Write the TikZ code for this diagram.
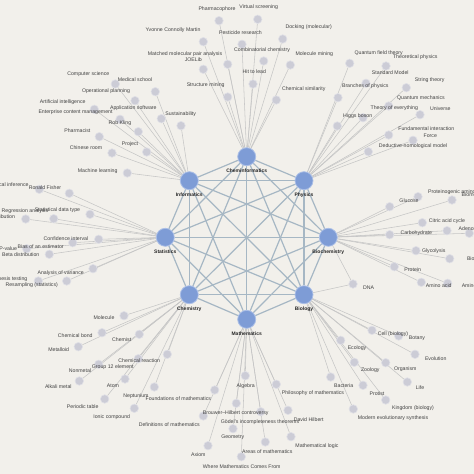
\documentclass[tikz,border=0pt]{standalone}
\usepackage{fontspec}
\setmainfont{Liberation Sans}
\usetikzlibrary{positioning}

\definecolor{paper}{RGB}{242,240,235}
\definecolor{hubblue}{RGB}{126,156,214}
\definecolor{hubrim}{RGB}{170,190,230}
\definecolor{leafgray}{RGB}{204,204,214}
\definecolor{leafrim}{RGB}{224,224,230}
\definecolor{meshline}{RGB}{166,183,196}
\definecolor{spokeline}{RGB}{198,198,198}
\definecolor{txt}{RGB}{66,66,66}

\pgfdeclarelayer{back}
\pgfdeclarelayer{edges}
\pgfdeclarelayer{front}
\pgfsetlayers{back,edges,main,front}

\begin{document}
\begin{tikzpicture}[x=1pt, y=-1pt,
  hub/.style={circle, draw=hubrim, fill=hubblue, line width=0.8pt,
              minimum size=18pt, inner sep=0pt},
  hubtxt/.style={font=\fontsize{5}{6}\selectfont\bfseries, text=black!85, inner sep=0.5pt},
  leaf/.style={circle, draw=leafrim, fill=leafgray, line width=0.6pt,
               minimum size=8.5pt, inner sep=0pt},
  lbl/.style={font=\fontsize{5.2}{6}\selectfont, text=txt, inner sep=0pt},
  mesh/.style={meshline, line width=1.2pt},
  spoke/.style={spokeline, line width=0.55pt}
]
\useasboundingbox (0,0) rectangle (474,474);
\begin{pgfonlayer}{back}
  \fill[paper] (0,0) rectangle (474,474);
\end{pgfonlayer}

% the eight fields
\node[hub] (chinf) at (246.7,156.7) {};
\node[hub] (inf)   at (189.3,180.7) {};
\node[hub] (phys)  at (304,180.7)   {};
\node[hub] (stat)  at (165.3,237.3) {};
\node[hub] (bchem) at (328.3,237.3) {};
\node[hub] (chem)  at (189.3,294.7) {};
\node[hub] (bio)   at (304,294.7)   {};
\node[hub] (math)  at (246.7,319.3) {};

\node[hubtxt, below=2.5pt of chinf] (chinfT) {Cheminformatics};
\node[hubtxt, below=2.5pt of inf]   (infT)   {Informatics};
\node[hubtxt, below=2.5pt of phys]  (physT)  {Physics};
\node[hubtxt, below=2.5pt of stat]  (statT)  {Statistics};
\node[hubtxt, below=2.5pt of bchem] (bchemT) {Biochemistry};
\node[hubtxt, below=2.5pt of chem]  (chemT)  {Chemistry};
\node[hubtxt, below=2.5pt of bio]   (bioT)   {Biology};
\node[hubtxt, below=2.5pt of math]  (mathT)  {Mathematics};

\begin{pgfonlayer}{edges}
\foreach \a [count=\i] in {chinf,phys,bchem,bio,math,chem,stat,inf}
  \foreach \b [count=\j] in {chinf,phys,bchem,bio,math,chem,stat,inf}
    {\ifnum\i<\j \draw[mesh] (\a) -- (\b); \fi}
\end{pgfonlayer}

% leaves: hub/name/x/y/label x/label y/text
\foreach \h/\n/\x/\y/\lx/\ly/\lab in {
  chinf/pharm/219/20.7/217/9/Pharmacophore,
  chinf/vscreen/257.7/19.3/258.7/7.3/Virtual screening,
  chinf/yvonne/203.3/41.7/173/30/Yvonne Connolly Martin,
  chinf/pest/242/44.3/240.5/32.7/Pesticide research,
  chinf/dock/282.7/39/308.7/27/Docking (molecular),
  chinf/combi/263.7/61/262/50/Combinatorial chemistry,
  chinf/mmpa/203.3/69.3/185/54/Matched molecular pair analysis,
  chinf/joelib/227.7/64.3/193.3/59.3/JOELib,
  chinf/hit/253/84/254.3/71.7/Hit to lead,
  chinf/mmining/290.3/65/314.3/54/Molecule mining,
  chinf/chemsim/276.3/100/303.7/89/Chemical similarity,
  chinf/smining/227.7/97/205.7/85.3/Structure mining,
  inf/cs/115.3/84/88.3/74/Computer science,
  inf/med/155.3/91.7/135/80/Medical school,
  inf/oper/135/100.7/106/90.7/Operational planning,
  inf/ai/94.3/109.3/62.7/102.3/Artificial intelligence,
  inf/ecm/120/119.3/75.5/112/Enterprise content management,
  inf/appsw/161.3/118.7/133.3/108/Application software,
  inf/sust/181/125.7/180.7/114/Sustainability,
  inf/kling/138.3/131.7/120/122.7/Rob Kling,
  inf/pharmacist/99.3/136.7/77.3/131/Pharmacist,
  inf/proj/146.7/152/130/144/Project,
  inf/chroom/112/153/86/148/Chinese room,
  inf/ml/127.3/173/97.7/171/Machine learning,
  stat/inference/39.3/189.3/6/184.7/Statistical inference,
  stat/fisher/69.3/193.3/45/187.3/Ronald Fisher,
  stat/regr/90/214.3/25/211.5/Regression analysis,
  stat/datatype/53.7/218.7/57.5/210/Statistical data type,
  stat/probdist/25.7/219/-10.4/216.7/Probability distribution,
  stat/ci/98.7/239.3/66/239/Confidence interval,
  stat/pval/26.7/248.7/8.2/249/P-value,
  stat/bias/72.7/242.7/40.7/246.7/Bias of an estimator,
  stat/beta/49.3/254.3/20.7/254.7/Beta distribution,
  stat/anova/93/268.7/60.7/272.7/Analysis of variance,
  stat/hypo/38.3/281/6.1/279.3/Hypothesis testing,
  stat/resamp/66.7/281/31.7/284.7/Resampling (statistics),
  chem/molecule/124/315.7/104/317.7/Molecule,
  chem/bond/102/332.7/75.3/335.7/Chemical bond,
  chem/metalloid/78.3/346.7/58.7/349.7/Metalloid,
  chem/chemist/139.3/334.3/121.7/340/Chemist,
  chem/reaction/138.3/358.7/139.3/361/Chemical reaction,
  chem/group12/98.7/364.3/112.7/366.7/Group 12 element,
  chem/nonmetal/167.3/354.3/80/370.7/Nonmetal,
  chem/alkali/79.3/381/58.3/386.7/Alkali metal,
  chem/atom/125/379/113/386/Atom,
  chem/periodic/104.7/399/82.7/406.3/Periodic table,
  chem/nept/154.3/387/136/396/Neptunium,
  chem/ionic/134.3/408.3/111.7/417.3/Ionic compound,
  math/found/214.7/390/178.3/399/Foundations of mathematics,
  math/defs/203.3/416/169.3/425/Definitions of mathematics,
  math/axiom/208/445.7/198.3/455/Axiom,
  math/wmcf/241.3/456.7/241.7/466.7/Where Mathematics Comes From,
  math/algebra/245.3/375.7/245.7/385.7/Algebra,
  math/brouwer/236.3/403.3/235.7/412.7/Brouwer--Hilbert controversy,
  math/goedel/260.7/411.7/260/421.7/Gödel's incompleteness theorems,
  math/geom/233/428.7/232.7/437.7/Geometry,
  math/areas/265.3/442/267.3/451.7/Areas of mathematics,
  math/philo/276.3/384.3/313/393.3/Philosophy of mathematics,
  math/hilbert/288/410.3/308.7/419.3/David Hilbert,
  math/logic/291/436.7/317/445.7/Mathematical logic,
  bio/cell/372/330.3/393/334/Cell (biology),
  bio/botany/398.7/336/417/338.7/Botany,
  bio/ecology/340.7/340.3/357/347.7/Ecology,
  bio/evol/415/354.3/435.7/358.3/Evolution,
  bio/zoology/354.3/362.3/370.3/370.3/Zoology,
  bio/organism/385.7/362.7/405.3/369/Organism,
  bio/life/407.3/382/420/387.7/Life,
  bio/bact/330.7/377/343.7/386/Bacteria,
  bio/protist/363/385.3/377/393.3/Protist,
  bio/kingdom/385.7/400/413/407.7/Kingdom (biology),
  bio/mes/353.3/409/393/418/Modern evolutionary synthesis,
  bchem/glucose/389.7/206.7/409/201/Glucose,
  bchem/proteino/418/196.7/457.4/191.7/Proteinogenic amino acid,
  bchem/biomol/452/200/475.9/195/Biomolecule,
  bchem/citric/422.3/222.7/447/220.7/Citric acid cycle,
  bchem/carb/389.7/234.7/416.3/232.7/Carbohydrate,
  bchem/atp/469.3/233.3/486/229/Adenosine triphosphate,
  bchem/glyco/416/250.7/433.7/251.3/Glycolysis,
  bchem/biosyn/449.7/258.7/481.6/259/Biosynthesis,
  bchem/protein/394.3/266.7/412.7/270/Protein,
  bchem/aminoacid/421.3/282.3/438.7/285.7/Amino acid,
  bchem/aminoacyl/447.7/283.3/494/285.7/Aminoacyl tRNA synthetase,
  phys/qft/349.7/63.3/378.7/52.7/Quantum field theory,
  phys/theo/386/66/415.3/56.7/Theoretical physics,
  phys/sm/366/83.3/390.3/72.7/Standard Model,
  phys/string/406.3/87.7/429.7/80/String theory,
  phys/branches/338/97.7/365.3/86.3/Branches of physics,
  phys/qm/388.7/106/421/97.7/Quantum mechanics,
  phys/toe/363/117.7/394.3/108.3/Theory of everything,
  phys/universe/420/114.7/440.3/108.3/Universe,
  phys/higgs/337.3/126/357.7/116.3/Higgs boson,
  phys/fund/388.7/135/426.3/128.7/Fundamental interaction,
  phys/force/413/140.3/430.3/136/Force,
  phys/dn/368.3/151.7/413/146/Deductive-nomological model}
{
  \node[leaf] (\n) at (\x,\y) {};
  \begin{pgfonlayer}{front}
    \node[lbl] (t\n) at (\lx,\ly) {\lab};
  \end{pgfonlayer}
  \begin{pgfonlayer}{edges}
    \draw[spoke] (\h) -- (\n);
  \end{pgfonlayer}
}

% leaf with no label in view, and the one shared leaf
\node[leaf] (bcx) at (447,230.7) {};
\node[leaf] (dna) at (353,284) {};
\node[lbl] (tdna) at (368.7,287.3) {DNA};
\begin{pgfonlayer}{edges}
  \draw[spoke] (bchem) -- (bcx);
  \draw[spoke] (bchem) -- (dna);
  \draw[spoke] (bio) -- (dna);
\end{pgfonlayer}
\end{tikzpicture}
\end{document}
